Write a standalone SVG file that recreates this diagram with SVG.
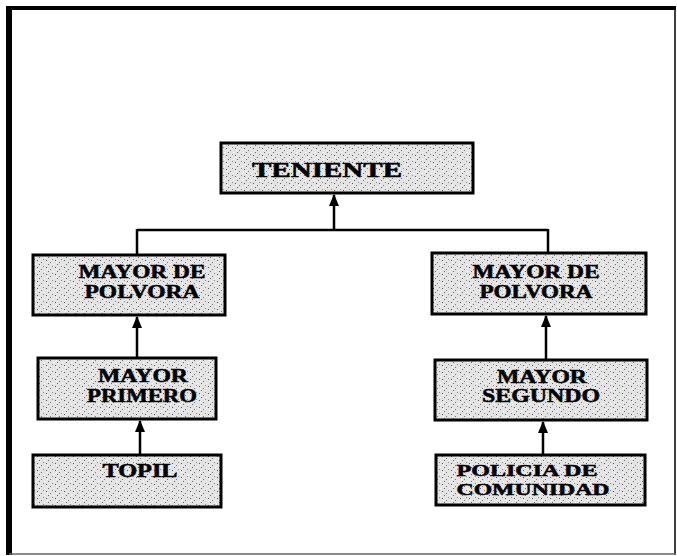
<svg xmlns="http://www.w3.org/2000/svg" width="677" height="556" viewBox="0 0 677 556">
<style>
.box{stroke:#000;stroke-width:3;fill:url(#stip)}
.t{font-family:"Liberation Serif","Times New Roman",serif;font-weight:bold;font-size:18px;fill:#000;stroke:#000;stroke-width:0.5;text-anchor:middle}
.big{font-size:21px}
.sm{font-size:16px}
.c{stroke:#000;stroke-width:2.5;fill:none}
</style>
<defs>
<pattern id="stip" width="9" height="7" patternUnits="userSpaceOnUse">
<rect width="9" height="7" fill="#e4e4e4"/>
<rect x="1" y="1" width="1" height="1" fill="#555"/>
<rect x="5" y="3" width="1" height="1" fill="#777"/>
<rect x="3" y="5" width="1" height="1" fill="#666"/>
<rect x="7" y="0" width="1" height="1" fill="#888"/>
<rect x="8" y="5" width="1" height="1" fill="#fff"/>
<rect x="2" y="3" width="1" height="1" fill="#fff"/>
</pattern>
<marker id="ah" markerWidth="12" markerHeight="10" refX="11" refY="5" orient="auto" markerUnits="userSpaceOnUse" viewBox="0 0 12 10">
<path d="M0,0 L12,5 L0,10 Z" fill="#000"/>
</marker>
</defs>
<rect width="677" height="556" fill="#fff"/>
<g id="frame">
<line x1="9" y1="6" x2="9" y2="555" stroke="#000" stroke-width="6"/>
<line x1="6" y1="8" x2="676" y2="8" stroke="#000" stroke-width="4"/>
<line x1="675" y1="6" x2="675" y2="555" stroke="#000" stroke-width="1.5"/>
<line x1="9" y1="554" x2="676" y2="554" stroke="#666" stroke-width="1.5"/>
</g>
<g id="connectors">
<line class="c" x1="137" y1="230" x2="548" y2="230"/>
<line class="c" x1="334" y1="230" x2="334" y2="195" marker-end="url(#ah)"/>
<line class="c" x1="137" y1="229" x2="137" y2="255"/>
<line class="c" x1="548" y1="229" x2="548" y2="253"/>
<line class="c" x1="137" y1="358" x2="137" y2="317" marker-end="url(#ah)"/>
<line class="c" x1="140" y1="455" x2="140" y2="421" marker-end="url(#ah)"/>
<line class="c" x1="546" y1="360" x2="546" y2="316" marker-end="url(#ah)"/>
<line class="c" x1="543" y1="455" x2="543" y2="422" marker-end="url(#ah)"/>
</g>
<g id="teniente">
<rect class="box" x="221" y="143" width="252" height="50"/>
<text class="t big" x="327" y="177" textLength="150" lengthAdjust="spacingAndGlyphs">TENIENTE</text>
</g>
<g id="mayor-polvora-left">
<rect class="box" x="33" y="255" width="192" height="60"/>
<text class="t" x="142" y="278" textLength="127" lengthAdjust="spacingAndGlyphs">MAYOR DE</text>
<text class="t" x="142" y="298" textLength="115" lengthAdjust="spacingAndGlyphs">POLVORA</text>
</g>
<g id="mayor-primero">
<rect class="box" x="38" y="358" width="178" height="61"/>
<text class="t" x="143" y="382" textLength="90" lengthAdjust="spacingAndGlyphs">MAYOR</text>
<text class="t" x="142" y="402" textLength="110" lengthAdjust="spacingAndGlyphs">PRIMERO</text>
</g>
<g id="topil">
<rect class="box" x="33" y="455" width="188" height="52"/>
<text class="t" x="140" y="477" textLength="75" lengthAdjust="spacingAndGlyphs">TOPIL</text>
</g>
<g id="mayor-polvora-right">
<rect class="box" x="432" y="253" width="214" height="61"/>
<text class="t" x="536" y="278" textLength="127" lengthAdjust="spacingAndGlyphs">MAYOR DE</text>
<text class="t" x="536" y="298" textLength="113" lengthAdjust="spacingAndGlyphs">POLVORA</text>
</g>
<g id="mayor-segundo">
<rect class="box" x="435" y="360" width="212" height="60"/>
<text class="t" x="542" y="383" textLength="90" lengthAdjust="spacingAndGlyphs">MAYOR</text>
<text class="t" x="541" y="402" textLength="118" lengthAdjust="spacingAndGlyphs">SEGUNDO</text>
</g>
<g id="policia">
<rect class="box" x="436" y="455" width="209" height="50"/>
<text class="t sm" x="527" y="476" textLength="141" lengthAdjust="spacingAndGlyphs">POLICIA DE</text>
<text class="t sm" x="533" y="495" textLength="153" lengthAdjust="spacingAndGlyphs">COMUNIDAD</text>
</g>
</svg>
